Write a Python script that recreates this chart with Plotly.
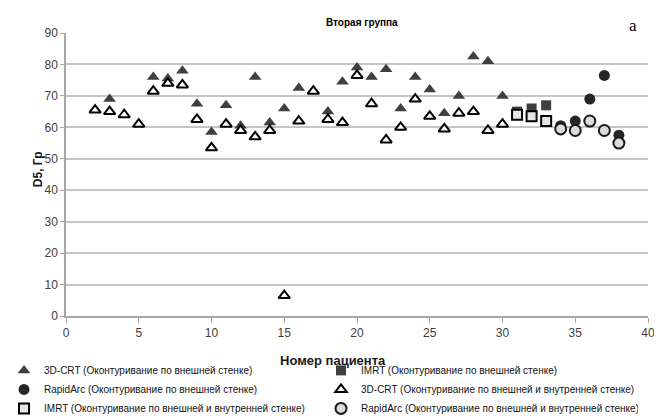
import plotly.graph_objects as go

# 3D-CRT, outer wall contouring
crt_out_x = [3, 6, 7, 8, 9, 10, 11, 12, 13, 14, 15, 16, 18, 19, 20, 21, 22, 23, 24, 25, 26, 27, 28, 29, 30]
crt_out_y = [69, 76, 75.5, 78, 67.5, 58.5, 67, 60.5, 76, 61.5, 66, 72.5, 65, 74.5, 79, 76, 78.5, 66, 76, 72, 64.5, 70, 82.5, 81, 70]

# 3D-CRT, outer + inner wall contouring
crt_both_x = [2, 3, 4, 5, 6, 7, 8, 9, 10, 11, 12, 13, 14, 15, 16, 17, 18, 19, 20, 21, 22, 23, 24, 25, 26, 27, 28, 29, 30]
crt_both_y = [65.5, 65, 64, 61, 71.5, 74, 73.5, 62.5, 53.5, 61, 59, 57, 59, 6.5, 62, 71.5, 62.5, 61.5, 76.5, 67.5, 56, 60, 69, 63.5, 59.5, 64.5, 65, 59, 61]

# IMRT
imrt_out_x = [31, 32, 33]
imrt_out_y = [65, 66, 67]
imrt_both_x = [31, 32, 33]
imrt_both_y = [64, 63.5, 62]

# RapidArc
ra_out_x = [34, 35, 36, 37, 38]
ra_out_y = [60.5, 62, 69, 76.5, 57.5]
ra_both_x = [34, 35, 36, 37, 38]
ra_both_y = [59.5, 59, 62, 59, 55]

names = [
    "3D-CRT (Оконтуривание по внешней стенке)",
    "IMRT (Оконтуривание по внешней стенке)",
    "RapidArc (Оконтуривание по внешней стенке)",
    "3D-CRT (Оконтуривание по внешней и внутренней стенке)",
    "IMRT (Оконтуривание по внешней и внутренней стенке)",
    "RapidArc (Оконтуривание по внешней и внутренней стенке)",
]

dark = "#3f3f3f"
fig = go.Figure()
fig.add_trace(go.Scatter(x=crt_out_x, y=crt_out_y, mode="markers", name=names[0],
                         marker=dict(symbol="triangle-up", size=11, color=dark, line=dict(width=0))))
fig.add_trace(go.Scatter(x=imrt_out_x, y=imrt_out_y, mode="markers", name=names[1],
                         marker=dict(symbol="square", size=10, color=dark, line=dict(width=0))))
fig.add_trace(go.Scatter(x=ra_out_x, y=ra_out_y, mode="markers", name=names[2],
                         marker=dict(symbol="circle", size=11, color="#262626", line=dict(width=0))))
fig.add_trace(go.Scatter(x=crt_both_x, y=crt_both_y, mode="markers", name=names[3],
                         marker=dict(symbol="triangle-up", size=10, color="white", line=dict(width=2, color="black"))))
fig.add_trace(go.Scatter(x=imrt_both_x, y=imrt_both_y, mode="markers", name=names[4],
                         marker=dict(symbol="square", size=10, color="#e6e6e6", line=dict(width=2, color="black"))))
fig.add_trace(go.Scatter(x=ra_both_x, y=ra_both_y, mode="markers", name=names[5],
                         marker=dict(symbol="circle", size=11, color="#dcdcdc", line=dict(width=2, color="#1a1a1a"))))

tickfont = dict(family="Liberation Sans, Arial, sans-serif", size=12, color="#404040")
fig.update_layout(
    width=662, height=416,
    margin=dict(l=58, r=22, t=25, b=108, autoexpand=False),
    paper_bgcolor="white", plot_bgcolor="white",
    showlegend=True,
    legend=dict(orientation="h", x=-0.1065, xanchor="left", y=-0.141, yanchor="top",
                entrywidth=272, entrywidthmode="pixels",
                font=dict(family="Liberation Sans, Arial, sans-serif", size=10, color="#111111"),
                itemsizing="trace", bgcolor="rgba(0,0,0,0)"),
    xaxis=dict(range=[0, 40], dtick=5, tick0=0, showgrid=False, showline=True, linecolor="#a6a6a6",
               linewidth=1.5, ticks="outside", ticklen=5, tickcolor="#a6a6a6", tickfont=tickfont,
               zeroline=False, fixedrange=True),
    yaxis=dict(range=[0, 90], dtick=10, showgrid=True, gridcolor="#c4c4c4", gridwidth=1.5,
               showline=True, linecolor="#a6a6a6", linewidth=1.5, ticks="outside", ticklen=4,
               tickcolor="#a6a6a6", tickfont=tickfont, zeroline=False, fixedrange=True),
    annotations=[
        dict(text="<b>Вторая группа</b>", xref="paper", yref="paper", x=0.509, y=1.063,
             showarrow=False, font=dict(family="Liberation Sans, Arial, sans-serif", size=10, color="black")),
        dict(text="a", xref="paper", yref="paper", x=0.985, y=1.068, showarrow=False,
             font=dict(family="Liberation Serif, DejaVu Serif, serif", size=17, color="black")),
        dict(text="<b>D5, Гр</b>", xref="paper", yref="paper", x=-0.063, y=0.52, textangle=-90,
             showarrow=False, font=dict(family="Liberation Sans, Arial, sans-serif", size=12, color="#1a1a1a")),
        dict(text="<b>Номер пациента</b>", xref="paper", yref="paper", x=0.458, y=-0.157,
             xanchor="center", yanchor="middle",
             showarrow=False, font=dict(family="Liberation Sans, Arial, sans-serif", size=13, color="#1a1a1a")),
    ],
)

fig.write_html("out.html")
